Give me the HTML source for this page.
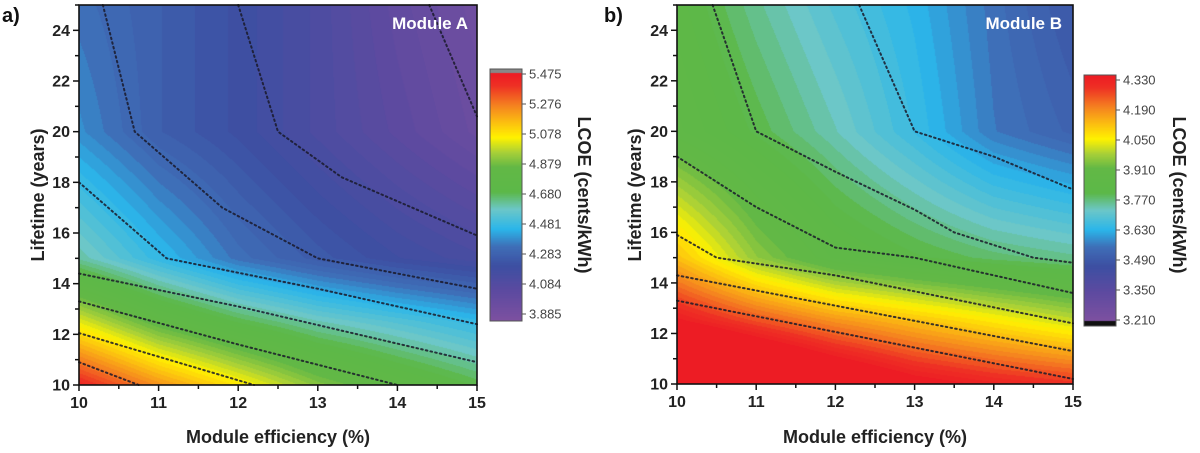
<!DOCTYPE html>
<html><head><meta charset="utf-8"><style>
html,body{margin:0;padding:0;background:#fff;width:1200px;height:453px;overflow:hidden}
canvas{position:absolute}
svg{position:absolute;left:0;top:0}
text{font-family:"Liberation Sans",Arial,sans-serif}
</style></head><body>
<canvas id="ca" style="left:79px;top:5px" width="398" height="380"></canvas>
<canvas id="cb" style="left:677px;top:5px" width="396" height="379"></canvas>
<canvas id="ba" style="left:490px;top:69px" width="32" height="252"></canvas>
<canvas id="bb" style="left:1084px;top:75px" width="32" height="251"></canvas>
<svg width="1200" height="453" id="s">
<g font-weight="bold" font-size="20" fill="#111"><text x="2" y="22">a)</text><text x="604" y="22">b)</text></g>
<g id="axes"></g>
<g font-weight="bold" font-size="18" fill="#222" text-anchor="middle">
<text x="278" y="443">Module efficiency (%)</text>
<text x="875" y="443">Module efficiency (%)</text>
<text transform="translate(44,195) rotate(-90)">Lifetime (years)</text>
<text transform="translate(641,195) rotate(-90)">Lifetime (years)</text>
<text transform="translate(578,195) rotate(90)">LCOE (cents/kWh)</text>
<text transform="translate(1173,195) rotate(90)">LCOE (cents/kWh)</text>
</g>
<g font-weight="bold" font-size="17" fill="#fff" text-anchor="end">
<text x="468" y="29">Module A</text><text x="1062" y="29">Module B</text></g>
</svg>
<script>
var stops=[[0,[125,80,160]],[.12,[92,74,160]],[.22,[61,79,162]],[.3,[62,111,184]],[.37,[43,182,234]],[.45,[108,199,200]],[.52,[92,184,72]],[.62,[98,184,70]],[.68,[168,208,56]],[.74,[255,242,0]],[.8,[252,192,16]],[.87,[245,130,32]],[.95,[238,48,36]],[1,[237,28,36]]];
function cm(t){t=Math.max(0,Math.min(1,t));for(var i=1;i<stops.length;i++){if(t<=stops[i][0]){var a=stops[i-1],b=stops[i],f=(t-a[0])/(b[0]-a[0]);return [0,1,2].map(function(k){return Math.round(a[1][k]+(b[1][k]-a[1][k])*f)})}}return stops[stops.length-1][1]}
var Ls=[10,12.5,15,20,25];
var GA=[[.97,.85,.75,.65,.58,.52],[.72,.6,.52,.46,.42,.38],[.47,.38,.3,.25,.21,.18],[.33,.26,.22,.17,.12,.07],[.3,.26,.22,.17,.1,.05]];
var GB=[[1.3,1.2,1.1,1.02,.98,.95],[1.0,.92,.85,.8,.75,.7],[.8,.66,.57,.53,.5,.48],[.58,.52,.46,.39,.31,.27],[.55,.48,.42,.37,.3,.24]];
function val(G,e,L){var i=0;while(i<Ls.length-2&&L>Ls[i+1])i++;var fy=(L-Ls[i])/(Ls[i+1]-Ls[i]);var j=Math.min(4,Math.floor(e-10));var fx=e-10-j;
var a=G[i][j]*(1-fx)+G[i][j+1]*fx,b=G[i+1][j]*(1-fx)+G[i+1][j+1]*fx;return a*(1-fy)+b*fy}
function paint(id,G){var c=document.getElementById(id),x=c.getContext('2d'),W=c.width,H=c.height,im=x.createImageData(W,H);
for(var py=0;py<H;py++){var L=25-15*py/(H-1);for(var px=0;px<W;px++){var e=10+5*px/(W-1);var t=val(G,e,L);t=Math.round(t*60)/60;var col=cm(t),k=(py*W+px)*4;im.data[k]=col[0];im.data[k+1]=col[1];im.data[k+2]=col[2];im.data[k+3]=255}}x.putImageData(im,0,0)}
paint('ca',GA);paint('cb',GB);
function bar(id,top,bot){var c=document.getElementById(id),x=c.getContext('2d'),W=c.width,H=c.height;
for(var py=0;py<H;py++){var col=cm(1-(py-top)/(H-top-bot-1));x.fillStyle='rgb('+col+')';x.fillRect(0,py,W,1)}}
bar('ba',4,0);bar('bb',0,5);
(function(){var c=document.getElementById('ba').getContext('2d');c.fillStyle='#888';c.fillRect(0,0,32,4);
c=document.getElementById('bb').getContext('2d');c.fillStyle='#111';c.fillRect(0,246,32,5);})();
var S='http://www.w3.org/2000/svg',g=document.getElementById('axes');
function el(n,a,p){var e=document.createElementNS(S,n);for(var k in a)e.setAttribute(k,a[k]);(p||g).appendChild(e);return e}
function panel(x0,x1,y0,y1,lines,cb){
var sx=function(e){return x0+(e-10)*(x1-x0)/5},sy=function(L){return y1-(L-10)*(y1-y0)/15};
lines.forEach(function(l){el('polyline',{points:l.map(function(p){return sx(p[0])+','+sy(p[1])}).join(' '),fill:'none',stroke:'#1a1a2a','stroke-width':2,'stroke-dasharray':'1.6,3.2','stroke-linecap':'round',opacity:.85})});
el('rect',{x:x0,y:y0,width:x1-x0,height:y1-y0,fill:'none',stroke:'#111','stroke-width':1.6});
for(var e=10;e<=15;e+=.5){var X=sx(e),maj=e%1==0;el('line',{x1:X,x2:X,y1:y1,y2:y1+(maj?6:4),stroke:'#111','stroke-width':1.5});
if(maj){var t=el('text',{x:X,y:y1+23,'text-anchor':'middle','font-size':16,'font-weight':'bold',fill:'#222'});t.textContent=e}}
for(var L=10;L<=25;L+=1){var Y=sy(L),maj=L%2==0;el('line',{x1:x0-(maj?6:4),x2:x0,y1:Y,y2:Y,stroke:'#111','stroke-width':1.5});
if(maj){var t=el('text',{x:x0-9,y:Y+5.5,'text-anchor':'end','font-size':16,'font-weight':'bold',fill:'#222'});t.textContent=L}}
el('rect',{x:cb.x,y:cb.y,width:32,height:cb.h,fill:'none',stroke:'#555','stroke-width':1});
cb.labels.forEach(function(s,i){var Y=cb.l0+i*(cb.l1-cb.l0)/(cb.labels.length-1);el('line',{x1:cb.x+32,x2:cb.x+36,y1:Y,y2:Y,stroke:'#555'});
var t=el('text',{x:cb.x+39,y:Y+4.5,'font-size':13,fill:'#444'});t.textContent=s});
}
panel(79,477,5,385,[
[[10.3,25],[10.7,20],[11.8,17],[13,15],[15,13.8]],
[[12,25],[12.5,20],[13.3,18.2],[15,15.9]],
[[14.4,25],[15,20.6]],
[[10,18],[11.1,15],[13,13.8],[15,12.4]],
[[10,14.4],[12,13.1],[15,10.9]],
[[10,13.3],[12,11.6],[14,10]],
[[10,12.05],[12.2,10]],
[[10,10.9],[10.75,10]]],
{x:490,y:69,h:252,l0:74,l1:314,labels:['5.475','5.276','5.078','4.879','4.680','4.481','4.283','4.084','3.885']});
panel(677,1073,5,384,[
[[10.45,25],[11,20],[12,18.4],[13,16.9],[13.5,16],[14.5,15],[15,14.8]],
[[12.3,25],[13,20],[14,19],[15,17.7]],
[[10,19],[11,17],[12,15.4],[13,15],[15,13.6]],
[[10,15.9],[10.5,15],[12,14.3],[15,12.4]],
[[10,14.3],[15,11.3]],
[[10,13.3],[15,10.2]]],
{x:1084,y:75,h:251,l0:80,l1:320,labels:['4.330','4.190','4.050','3.910','3.770','3.630','3.490','3.350','3.210']});
</script>
</body></html>
